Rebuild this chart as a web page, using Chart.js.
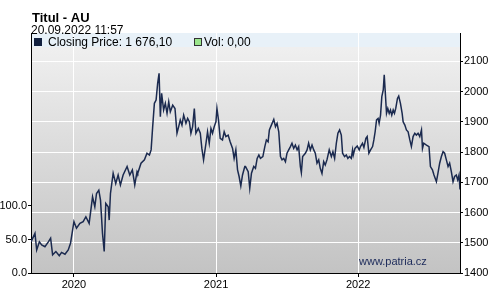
<!DOCTYPE html>
<html>
<head>
<meta charset="utf-8">
<script src="https://cdn.jsdelivr.net/npm/chart.js@4.4.1/dist/chart.umd.min.js"></script>
<style>
html, body { margin: 0; padding: 0; background: #fff; }
#wrap { position: relative; width: 500px; height: 297px; }
</style>
</head>
<body>
<div id="wrap"><canvas id="chart"></canvas></div>
<script>
// Closing prices, dates as decimal years (Sep 2019 - Sep 2022)
const dates = [
    2019.698, 2019.726, 2019.738, 2019.757, 2019.773, 2019.796, 2019.820, 2019.836,
    2019.850, 2019.873, 2019.897, 2019.913, 2019.937, 2019.960, 2019.976, 2020.000,
    2020.018, 2020.042, 2020.065, 2020.084, 2020.107, 2020.131, 2020.147, 2020.159,
    2020.175, 2020.187, 2020.201, 2020.213, 2020.224, 2020.241, 2020.248, 2020.257,
    2020.276, 2020.294, 2020.311, 2020.327, 2020.346, 2020.374, 2020.393, 2020.411,
    2020.428, 2020.444,
    2020.449, 2020.472, 2020.496, 2020.514, 2020.531, 2020.543, 2020.554, 2020.566,
    2020.578, 2020.589, 2020.599, 2020.608, 2020.617, 2020.631, 2020.643, 2020.655,
    2020.667, 2020.678, 2020.695, 2020.711, 2020.725, 2020.737, 2020.748, 2020.760,
    2020.772, 2020.788, 2020.800, 2020.812, 2020.823, 2020.835, 2020.847, 2020.858,
    2020.875, 2020.889, 2020.900, 2020.912, 2020.929, 2020.940, 2020.952, 2020.964,
    2020.975, 2020.987, 2020.999, 2021.006, 2021.017, 2021.029, 2021.045, 2021.057,
    2021.069, 2021.085, 2021.099, 2021.116, 2021.127, 2021.139, 2021.151, 2021.162,
    2021.174, 2021.186, 2021.202,
    2021.207, 2021.226, 2021.237, 2021.249, 2021.265, 2021.277, 2021.289, 2021.301,
    2021.312, 2021.329, 2021.343, 2021.354, 2021.366, 2021.375, 2021.389, 2021.406,
    2021.418, 2021.429, 2021.441, 2021.453, 2021.464, 2021.476, 2021.488, 2021.499,
    2021.511, 2021.523, 2021.534, 2021.546, 2021.558, 2021.570, 2021.581, 2021.593,
    2021.600, 2021.609, 2021.628, 2021.640, 2021.651, 2021.663, 2021.675, 2021.687,
    2021.698, 2021.710, 2021.722, 2021.733, 2021.745, 2021.757, 2021.768, 2021.780,
    2021.796, 2021.811, 2021.822, 2021.834, 2021.846, 2021.857, 2021.869, 2021.881,
    2021.890, 2021.904, 2021.916, 2021.927, 2021.939, 2021.951, 2021.960,
    2021.965, 2021.977, 2021.993, 2022.007, 2022.016, 2022.030, 2022.040, 2022.054,
    2022.063, 2022.075, 2022.087, 2022.101, 2022.110, 2022.119, 2022.129, 2022.140,
    2022.147, 2022.157, 2022.166, 2022.176, 2022.183, 2022.190, 2022.199, 2022.208,
    2022.218, 2022.227, 2022.236, 2022.246, 2022.255, 2022.264, 2022.276, 2022.285,
    2022.297, 2022.309, 2022.316, 2022.328, 2022.339, 2022.351, 2022.363, 2022.374,
    2022.386, 2022.398, 2022.409, 2022.421, 2022.433, 2022.445, 2022.452, 2022.461,
    2022.480, 2022.498, 2022.508, 2022.522, 2022.533, 2022.550, 2022.561, 2022.573,
    2022.585, 2022.597, 2022.608, 2022.620, 2022.632, 2022.643, 2022.655, 2022.667,
    2022.678, 2022.690, 2022.700, 2022.709, 2022.716
];

const closes = [
    1503, 1531, 1476, 1503, 1493, 1487, 1503, 1515,
    1460, 1471, 1457, 1468, 1462, 1476, 1498, 1570,
    1548, 1564, 1570, 1586, 1564, 1652, 1619, 1663,
    1674, 1641, 1531, 1471, 1630, 1619, 1575, 1663,
    1730, 1696, 1724, 1691, 1724, 1752, 1724, 1741,
    1691, 1735,
    1730, 1763, 1774, 1796, 1790, 1807, 1884, 1961,
    1972, 2027, 2060, 1917, 1994, 1939, 1961, 1928,
    1966, 1933, 1955, 1944, 1862, 1884, 1906, 1889,
    1922, 1895, 1911, 1900, 1862, 1884, 1944, 1862,
    1878, 1862, 1812, 1774, 1829, 1867, 1829, 1878,
    1862, 1884, 1900, 1944, 1906, 1845, 1840, 1867,
    1851, 1856, 1834, 1812, 1779, 1807, 1741, 1719,
    1688, 1724, 1752,
    1752, 1735, 1680, 1730, 1752, 1746, 1779, 1790,
    1779, 1785, 1818, 1840, 1834, 1873, 1889, 1908,
    1884, 1895, 1867, 1785, 1774, 1779, 1768, 1796,
    1807, 1818, 1829, 1812, 1823, 1807, 1818, 1752,
    1732, 1785, 1796, 1807, 1829, 1807, 1823, 1807,
    1796, 1763, 1774, 1746, 1729, 1768, 1757, 1774,
    1807, 1785, 1801, 1779, 1829, 1862, 1873, 1856,
    1796, 1785, 1790, 1779, 1785, 1779, 1807,
    1790, 1812, 1820, 1807, 1818, 1829, 1815, 1845,
    1851, 1796, 1807, 1818, 1840, 1867, 1906, 1911,
    1895, 1922, 1983, 2005, 2055, 2000, 1928, 1944,
    1928, 1939, 1922, 1939, 1928, 1944, 1977, 1985,
    1961, 1928, 1900, 1889, 1873, 1867, 1840, 1818,
    1851, 1862, 1856, 1862, 1851, 1873, 1812, 1829,
    1823, 1818, 1752, 1741, 1724, 1702, 1730, 1763,
    1785, 1801, 1796, 1774, 1752, 1763, 1735, 1702,
    1719, 1724, 1708, 1724, 1676.1
];

const yearTicks = [2020, 2021, 2022];
const priceTicks = [1400, 1500, 1600, 1700, 1800, 1900, 2000, 2100];
const volTicks = [0, 50, 100];
const lastVol = 0;

const FONT = 'Arial, "Liberation Sans", sans-serif';

function czNumber(v) {
    const parts = v.toFixed(2).split('.');
    return parts[0].replace(/\B(?=(\d{3})+(?!\d))/g, ' ') + ',' + parts[1];
}

// grey gradient plot area with the light blue legend strip on top
const plotBackground = {
    id: 'plotBackground',
    beforeDraw(chart) {
        const { ctx, chartArea: a } = chart;
        const g = ctx.createLinearGradient(0, a.top, 0, a.bottom);
        g.addColorStop(0, '#f2f2f2');
        g.addColorStop(1, '#c3c3c3');
        ctx.save();
        ctx.fillStyle = g;
        ctx.fillRect(a.left, a.top, a.right - a.left, a.bottom - a.top);
        ctx.fillStyle = '#e8f1f8';
        ctx.fillRect(a.left, a.top, a.right - a.left, 14);
        ctx.restore();
    },
    beforeDatasetsDraw(chart) {
        const ctx = chart.ctx;
        ctx.save();
        ctx.font = '11px ' + FONT;
        ctx.fillStyle = '#1c2a5a';
        ctx.textBaseline = 'alphabetic';
        ctx.fillText('www.patria.cz', 359, 265);
        ctx.restore();
    }
};

// title, timestamp and legend
const headerText = {
    id: 'headerText',
    afterDraw(chart) {
        const ctx = chart.ctx;
        ctx.save();
        ctx.textBaseline = 'alphabetic';
        ctx.fillStyle = '#000';
        ctx.font = 'bold 13px ' + FONT;
        ctx.fillText('Titul - AU', 32, 22);
        ctx.font = '12px ' + FONT;
        ctx.fillText('20.09.2022 11:57', 31, 34);

        ctx.fillStyle = '#13213f';
        ctx.fillRect(34, 38, 8, 8);
        ctx.fillStyle = '#000';
        ctx.fillText('Closing Price: ' + czNumber(closes[closes.length - 1]), 48, 46);

        ctx.fillStyle = '#9be68c';
        ctx.fillRect(194.5, 38.5, 7, 7);
        ctx.strokeStyle = '#333';
        ctx.lineWidth = 1;
        ctx.strokeRect(194.5, 38.5, 7, 7);
        ctx.fillStyle = '#000';
        ctx.fillText('Vol: ' + czNumber(lastVol), 204, 46);
        ctx.restore();
    }
};

const points = dates.map((d, i) => ({ x: d, y: closes[i] }));

const ctx = document.getElementById('chart').getContext('2d');
new Chart(ctx, {
    type: 'line',
    data: {
        datasets: [{
            label: 'Closing Price',
            data: points,
            xAxisID: 'x',
            yAxisID: 'y',
            borderColor: '#1b2a4f',
            borderWidth: 1.5,
            pointRadius: 0,
            tension: 0,
            fill: false
        }]
    },
    options: {
        responsive: true,
        maintainAspectRatio: false,
        animation: false,
        events: [],
        layout: { padding: { top: 33, left: 0, right: 0, bottom: 0 } },
        plugins: {
            legend: { display: false },
            tooltip: { enabled: false }
        },
        font: { family: FONT },
        scales: {
            x: {
                type: 'linear',
                min: 2019.698,
                max: 2022.716,
                afterBuildTicks: s => { s.ticks = yearTicks.map(v => ({ value: v })); },
                afterFit: s => { s.height = 24; },
                grid: { color: '#ffffff', lineWidth: 1, tickColor: '#000', tickLength: 4 },
                border: { display: true, color: '#000' },
                ticks: {
                    color: '#000', padding: 1, maxRotation: 0, autoSkip: false,
                    font: { family: FONT, size: 11 },
                    callback: v => String(v)
                }
            },
            y: {
                type: 'linear',
                position: 'right',
                min: 1400,
                max: 2193.5,
                afterBuildTicks: s => { s.ticks = priceTicks.map(v => ({ value: v })); },
                afterFit: s => { s.width = 40; },
                grid: { color: '#ffffff', lineWidth: 1, tickColor: '#000', tickLength: 3 },
                border: { display: true, color: '#000' },
                ticks: {
                    color: '#000', padding: 1,
                    font: { family: FONT, size: 11 },
                    callback: v => String(v)
                }
            },
            vol: {
                type: 'linear',
                position: 'left',
                min: 0,
                max: 358,
                afterBuildTicks: s => { s.ticks = volTicks.map(v => ({ value: v })); },
                afterFit: s => { s.width = 31; },
                grid: { drawOnChartArea: false, tickColor: '#000', tickLength: 3 },
                border: { display: true, color: '#000' },
                ticks: {
                    color: '#000', padding: 1,
                    font: { family: FONT, size: 11 },
                    callback: v => v.toFixed(1)
                }
            }
        }
    },
    plugins: [plotBackground, headerText]
});
</script>
</body>
</html>
